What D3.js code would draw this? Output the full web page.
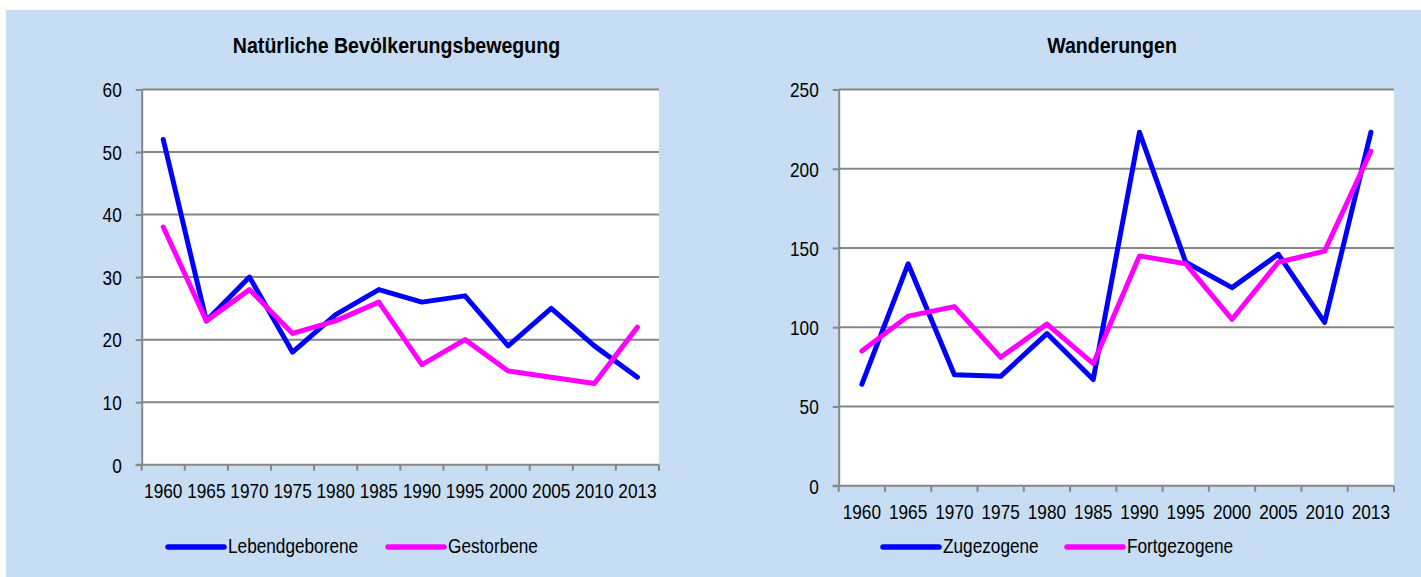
<!DOCTYPE html>
<html>
<head>
<meta charset="utf-8">
<script src="https://cdn.jsdelivr.net/npm/d3@7"></script>
<style>
  body { margin: 0; background: #fff; }
  svg { display: block; }
  text { font-family: "Liberation Sans", Arial, sans-serif; fill: #000; }
</style>
</head>
<body>
<svg></svg>
<script>
// data
var years = ["1960", "1965", "1970", "1975", "1980", "1985", "1990", "1995", "2000", "2005", "2010", "2013"];

var lebendgeborene = [52, 23, 30, 18, 24, 28, 26, 27, 19, 25, 19, 14];
var gestorbene     = [38, 23, 28, 21, 23, 26, 16, 20, 15, 14, 13, 22];

var zugezogene   = [64, 140, 70, 69, 96, 67, 223, 141, 125, 146, 103, 223];
var fortgezogene = [85, 107, 113, 81, 102, 77, 145, 140, 105, 141, 148, 211];

var ticksLeft  = [0, 10, 20, 30, 40, 50, 60];
var ticksRight = [0, 50, 100, 150, 200, 250];

var width = 1421,
    height = 577;

var BLUE = "#0000ff",
    PINK = "#ff00ff",
    GRID = "#868686",
    SX = 0.82;   // the original font is a narrow one

var svg = d3.select("svg")
    .attr("width", width)
    .attr("height", height);

// light blue chart area
svg.append("rect")
  .attr("x", 6).attr("y", 10)
  .attr("width", width - 6).attr("height", height - 10)
  .attr("fill", "#c6ddf3");

function drawChart(cfg) {
  var g = svg.append("g");

  var x = d3.scaleBand()
    .domain(years)
    .range([cfg.left, cfg.right])
    .padding(0);

  var y = d3.scaleLinear()
    .domain([0, cfg.max])
    .range([cfg.bottom, cfg.top]);

  // plot area
  g.append("rect")
    .attr("x", cfg.left).attr("y", cfg.top)
    .attr("width", cfg.right - cfg.left)
    .attr("height", cfg.bottom - cfg.top)
    .attr("fill", "#fff");

  // gridlines
  g.selectAll(".grid")
      .data(cfg.ticks.filter(function(d){ return d > 0; }))
    .enter().append("line")
      .attr("x1", cfg.left).attr("x2", cfg.right)
      .attr("y1", function(d){ return y(d); })
      .attr("y2", function(d){ return y(d); })
      .attr("stroke", GRID)
      .attr("stroke-width", 2);

  // y axis
  var yAxis = g.append("g")
    .attr("transform", "translate(" + cfg.left + ",0)")
    .call(d3.axisLeft(y).tickValues(cfg.ticks).tickSize(6).tickSizeOuter(0));
  yAxis.select(".domain").attr("stroke", GRID).attr("stroke-width", 2);
  yAxis.selectAll(".tick line").attr("stroke", GRID).attr("stroke-width", 2);
  yAxis.selectAll(".tick text")
    .attr("x", -20 / SX)
    .attr("dy", "0.35em")
    .attr("transform", "scale(" + SX + ",1)")
    .style("font-size", "21px")
    .style("font-family", null);

  // x axis: labels at band centres, tick marks at band edges
  var xAxis = g.append("g")
    .attr("transform", "translate(0," + cfg.bottom + ")")
    .call(d3.axisBottom(x).tickSize(0).tickSizeOuter(0));
  xAxis.select(".domain").remove();
  xAxis.selectAll(".tick text")
    .attr("y", 0)
    .attr("dy", null)
    .attr("transform", "translate(0,33.6) scale(" + SX + ",1)")
    .style("font-size", "21px")
    .style("font-family", null);

  var edges = years.map(function(d){ return x(d); }).concat([cfg.right]);
  g.selectAll(".xtick")
      .data(edges)
    .enter().append("line")
      .attr("x1", function(d){ return d; })
      .attr("x2", function(d){ return d; })
      .attr("y1", cfg.bottom)
      .attr("y2", cfg.bottom + 6)
      .attr("stroke", GRID)
      .attr("stroke-width", 2);
  g.append("line")
    .attr("x1", cfg.left - 6).attr("x2", cfg.right)
    .attr("y1", cfg.bottom).attr("y2", cfg.bottom)
    .attr("stroke", GRID)
    .attr("stroke-width", 2);

  // series lines
  var line = d3.line()
    .x(function(d, i){ return x(years[i]) + x.bandwidth() / 2; })
    .y(function(d){ return y(d); });

  cfg.series.forEach(function(s){
    g.append("path")
      .datum(s.values)
      .attr("d", line)
      .attr("fill", "none")
      .attr("stroke", s.color)
      .attr("stroke-width", 5)
      .attr("stroke-linejoin", "round")
      .attr("stroke-linecap", "round");
  });

  // title
  g.append("text")
    .attr("transform", "translate(" + cfg.titleX + ",53) scale(0.89,1)")
    .attr("text-anchor", "middle")
    .style("font-size", "22px")
    .style("font-weight", "bold")
    .text(cfg.title);

  // legend
  cfg.series.forEach(function(s, i){
    var lx = cfg.legendX[i];
    g.append("line")
      .attr("x1", lx).attr("x2", lx + 56)
      .attr("y1", 547).attr("y2", 547)
      .attr("stroke", s.color)
      .attr("stroke-width", 5.5)
      .attr("stroke-linecap", "round");
    g.append("text")
      .attr("transform", "translate(" + (lx + 60) + ",553) scale(" + SX + ",1)")
      .style("font-size", "21px")
      .text(s.name);
  });
}

drawChart({
  left: 141.7, right: 659, top: 89.5, bottom: 464.7,
  max: 60, ticks: ticksLeft,
  title: "Natürliche Bevölkerungsbewegung", titleX: 396.5,
  legendX: [168, 388],
  series: [
    { name: "Lebendgeborene", values: lebendgeborene, color: BLUE },
    { name: "Gestorbene", values: gestorbene, color: PINK }
  ]
});

drawChart({
  left: 838.7, right: 1394, top: 89.5, bottom: 485.7,
  max: 250, ticks: ticksRight,
  title: "Wanderungen", titleX: 1112,
  legendX: [883, 1067],
  series: [
    { name: "Zugezogene", values: zugezogene, color: BLUE },
    { name: "Fortgezogene", values: fortgezogene, color: PINK }
  ]
});
</script>
</body>
</html>
